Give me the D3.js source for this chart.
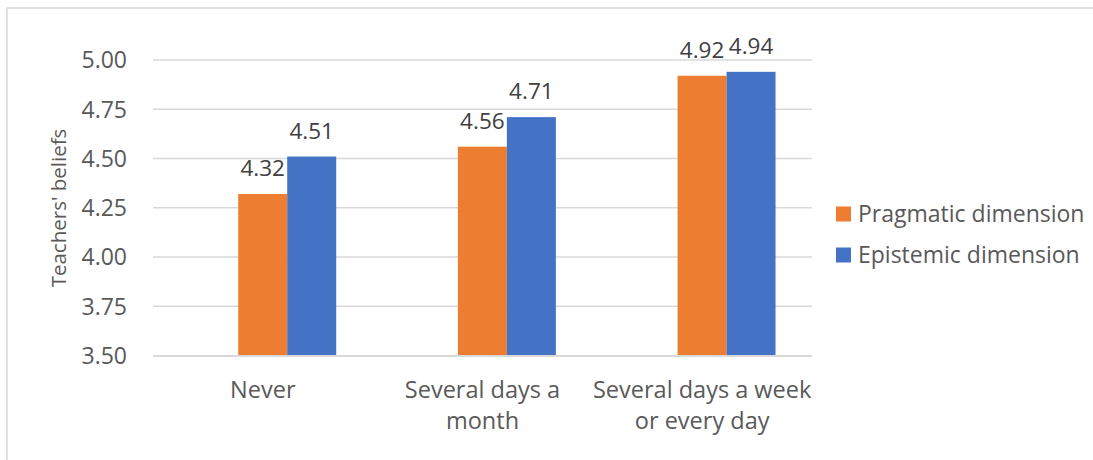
<!DOCTYPE html>
<html>
<head>
<meta charset="utf-8">
<script src="https://cdn.jsdelivr.net/npm/d3@7"></script>
<style>
  html, body { margin: 0; padding: 0; background: #fff; }
  svg { display: block; font-family: "Open Sans", sans-serif; }
</style>
</head>
<body>
<svg id="chart" width="1093" height="460"></svg>
<script>
const categories = [["Never"], ["Several days a", "month"], ["Several days a week", "or every day"]];
const seriesNames = ["Pragmatic dimension", "Epistemic dimension"];
const pragmatic = [4.32, 4.56, 4.92];
const epistemic = [4.51, 4.71, 4.94];
const yTicks = [3.50, 3.75, 4.00, 4.25, 4.50, 4.75, 5.00];
const colors = ["#ED7D31", "#4472C4"];

const svg = d3.select("#chart");
const textColor = "#595959";
const gridColor = "#d9d9d9";

// outer chart border (only left/top visible)
svg.append("rect")
  .attr("x", 7).attr("y", 8).attr("width", 1200).attr("height", 600)
  .attr("fill", "none").attr("stroke", gridColor).attr("stroke-width", 1.5);

const plotL = 153, plotR = 812, plotT = 60, plotB = 355.5;
const catKeys = categories.map((c, i) => i);
const x0 = d3.scaleBand().domain(catKeys).range([plotL, plotR]).padding(0);
const bw = x0.bandwidth();
const x1 = d3.scaleBand().domain(seriesNames).range([bw * 0.388, bw * 0.834]).padding(0);
const y = d3.scaleLinear().domain([3.5, 5.0]).range([plotB, plotT]);

// gridlines
svg.append("g").selectAll("line").data(yTicks.slice(1)).join("line")
  .attr("x1", plotL).attr("x2", plotR)
  .attr("y1", d => y(d)).attr("y2", d => y(d))
  .attr("stroke", gridColor).attr("stroke-width", 1.3);

// y tick labels
svg.append("g").selectAll("text").data(yTicks).join("text")
  .attr("x", 127).attr("y", d => y(d)).attr("dy", "0.36em")
  .attr("text-anchor", "end").attr("fill", textColor).attr("font-size", 23)
  .text(d => d.toFixed(2));

// y axis title
svg.append("text")
  .attr("transform", `translate(66,208) rotate(-90)`)
  .attr("text-anchor", "middle").attr("fill", textColor).attr("font-size", 20.5)
  .text("Teachers' beliefs");

const data = catKeys.map(i => ({ i, values: [pragmatic[i], epistemic[i]] }));

const groups = svg.append("g").selectAll("g").data(data).join("g")
  .attr("transform", d => `translate(${x0(d.i)},0)`);

groups.selectAll("rect").data(d => d.values.map((v, k) => ({ v, k }))).join("rect")
  .attr("x", d => x1(seriesNames[d.k]))
  .attr("width", x1.bandwidth())
  .attr("y", d => y(d.v))
  .attr("height", d => y(3.5) - y(d.v))
  .attr("fill", d => colors[d.k]);

groups.selectAll("text.val").data(d => d.values.map((v, k) => ({ v, k }))).join("text")
  .attr("class", "val")
  .attr("x", d => x1(seriesNames[d.k]) + x1.bandwidth() / 2)
  .attr("y", d => y(d.v) - 18)
  .attr("text-anchor", "middle").attr("fill", "#404040").attr("font-size", 22.5)
  .text(d => d.v.toFixed(2));

// x axis line
svg.append("line")
  .attr("x1", plotL).attr("x2", plotR).attr("y1", plotB + 0.5).attr("y2", plotB + 0.5)
  .attr("stroke", gridColor).attr("stroke-width", 2.2);

// category labels
const catG = svg.append("g").selectAll("text").data(catKeys).join("text")
  .attr("x", d => x0(d) + bw / 2)
  .attr("y", 398)
  .attr("text-anchor", "middle").attr("fill", textColor).attr("font-size", 23.5);
catG.selectAll("tspan").data(d => categories[d]).join("tspan")
  .attr("x", function() { return d3.select(this.parentNode).attr("x"); })
  .attr("dy", (d, j) => j === 0 ? 0 : 31)
  .text(d => d);

// legend
const leg = svg.append("g").selectAll("g").data(seriesNames).join("g")
  .attr("transform", (d, i) => `translate(836,${214 + i * 41})`);
leg.append("rect").attr("x", 0).attr("y", -7.5).attr("width", 15).attr("height", 15)
  .attr("fill", (d, i) => colors[i]);
leg.append("text").attr("x", 22).attr("y", 0).attr("dy", "0.36em")
  .attr("fill", textColor).attr("font-size", 23).text(d => d);
</script>
</body>
</html>
